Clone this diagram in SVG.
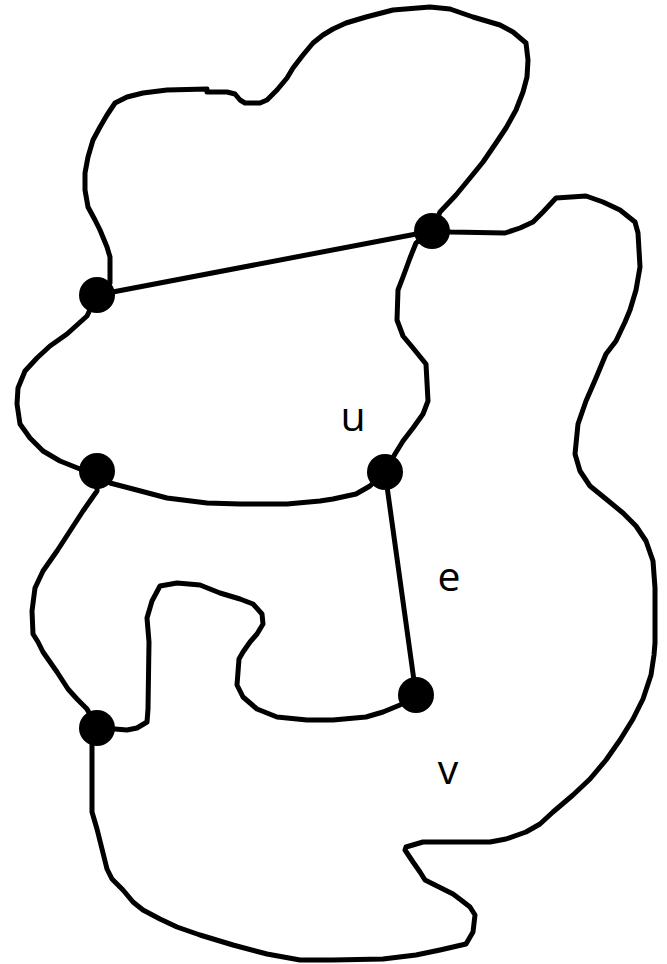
<svg xmlns="http://www.w3.org/2000/svg" width="667" height="964" viewBox="0 0 667 964">
<style>
.edge{fill:none;stroke:#000;stroke-width:5;stroke-linejoin:round;stroke-linecap:round}
.vertex{fill:#000}
.lbl{font-family:"Open Sans","Noto Sans","DejaVu Sans",sans-serif;font-size:41px;fill:#000;text-anchor:middle}
</style>
<rect width="667" height="964" fill="#fff"/>
<g id="connectors">
<path class="edge" d="M97,295 L432,231"/>
<path class="edge" d="M97,295 L110,283 L110,257 L107,247 L100,230 L95,220 L88,207 L85,190 L85,173 L88,157 L93,140 L100,127 L107,115 L115,103 L127,97 L143,93 L167,90 L207,89 L207,92 L227,92 L235,94 L240,100 L245,103 L260,103 L267,100 L277,90 L287,78 L293,68 L303,55 L313,43 L323,35 L333,29 L346,23 L366,17 L393,10 L430,7 L450,9 L473,17 L500,25 L513,32 L526,43 L528,60 L527,77 L523,92 L516,110 L506,128 L496,143 L483,162 L470,178 L456,195 L440,212 L432,231"/>
<path class="edge" d="M432,231 L451,232 L505,233 L520,228 L533,222 L543,212 L556,198 L586,196 L603,202 L620,210 L635,222 L638,233 L640,267 L636,290 L630,310 L625,322 L616,341 L606,354 L596,378 L586,401 L578,424 L575,454 L580,471 L590,486 L606,499 L623,513 L636,526 L646,541 L653,561 L655,588 L655,643 L654,655 L651,675 L643,699 L633,719 L620,740 L606,760 L590,779 L573,795 L553,812 L540,824 L526,832 L506,839 L490,842 L456,842 L423,842 L406,847 L405,850 L413,862 L420,872 L425,880 L433,884 L443,889 L453,894 L461,900 L470,907 L475,915 L473,932 L466,944 L440,950 L416,955 L383,959 L333,960 L300,960 L267,954 L233,945 L200,935 L177,927 L160,919 L143,910 L133,902 L123,890 L112,879 L107,869 L102,849 L97,829 L92,812 L92,745 L97,728"/>
<path class="edge" d="M432,231 L416,243 L410,258 L403,277 L398,290 L397,320 L403,336 L413,348 L426,364 L428,401 L423,414 L413,428 L403,441 L395,454 L385,472"/>
<path class="edge" d="M97,295 L87,316 L67,334 L50,346 L37,358 L25,371 L18,388 L17,404 L20,424 L30,438 L43,451 L60,461 L80,469 L97,471"/>
<path class="edge" d="M97,471 L110,483 L133,489 L167,498 L207,503 L240,504 L287,504 L320,501 L333,499 L356,494 L370,486 L385,472"/>
<path class="edge" d="M97,471 L97,491 L83,511 L70,531 L57,551 L43,571 L35,588 L32,611 L33,634 L38,642 L43,652 L57,672 L68,689 L77,699 L87,709 L97,728"/>
<path class="edge" d="M385,472 L416,695"/>
<path class="edge" d="M97,728 L115,729 L127,730 L137,728 L147,722 L148,709 L149,642 L147,618 L152,601 L160,586 L177,583 L200,585 L220,593 L240,599 L253,604 L262,614 L263,624 L257,634 L250,642 L243,652 L239,659 L237,685 L243,697 L257,709 L277,717 L307,720 L333,720 L366,717 L383,712 L400,705 L416,695"/>
</g>
<g id="node-a"><circle class="vertex" cx="432" cy="231" r="18"/></g>
<g id="node-b"><circle class="vertex" cx="97" cy="295" r="18"/></g>
<g id="node-c"><circle class="vertex" cx="97" cy="471" r="18"/></g>
<g id="node-u"><circle class="vertex" cx="385" cy="472" r="18"/></g>
<g id="node-v"><circle class="vertex" cx="416" cy="695" r="18"/></g>
<g id="node-f"><circle class="vertex" cx="97" cy="728" r="18"/></g>
<g id="labels">
<text class="lbl" x="353" y="431">u</text>
<text class="lbl" x="449" y="591">e</text>
<text class="lbl" x="448" y="784">v</text>
</g>
</svg>
